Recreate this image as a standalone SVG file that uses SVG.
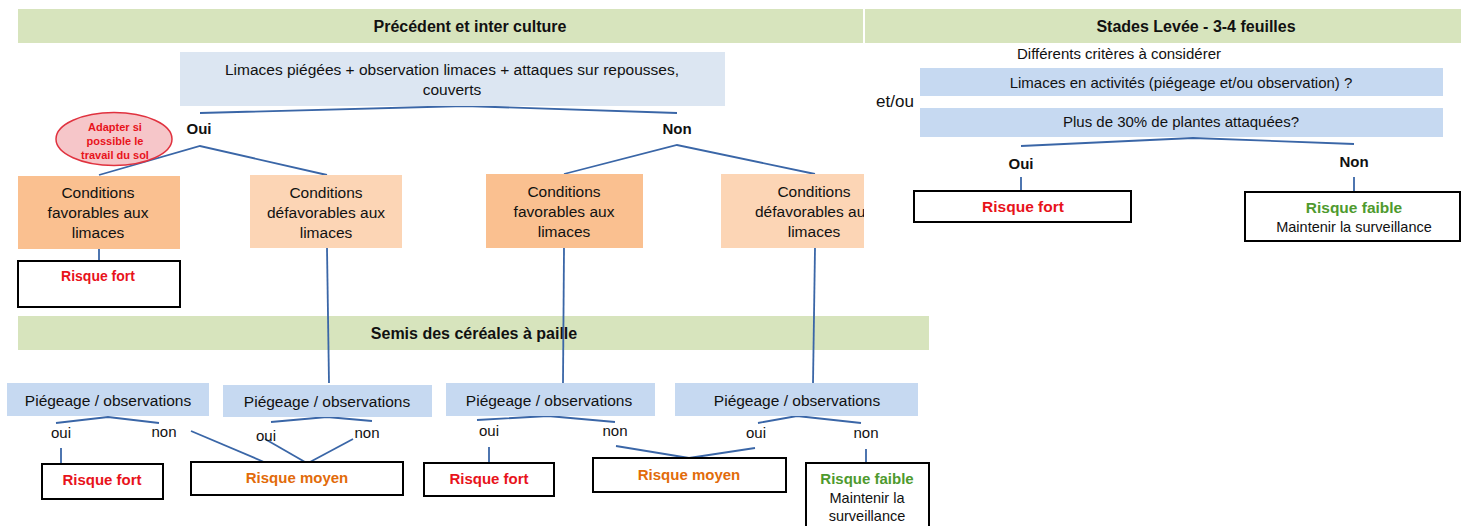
<svg xmlns="http://www.w3.org/2000/svg" width="1461" height="526" viewBox="0 0 1461 526">
<style>
text{font-family:"Liberation Sans",Arial,sans-serif;fill:#111;text-anchor:middle}
.bn{fill:#d7e4bd}
.bt{font-weight:bold;font-size:16px}
.q{fill:#dce6f2}
.pb{fill:#c6d9f1}
.of{fill:#fac090}
.ol{fill:#fcd5b5}
.r{fill:#fff;stroke:#000;stroke-width:2}
.t{font-size:15.5px}
.s{font-size:15px}
.b{font-weight:bold;font-size:15px}
.red{fill:#e8131b;font-weight:bold}
.org{fill:#e26b0a;font-weight:bold}
.grn{fill:#4e9a2e;font-weight:bold}
#connectors polyline,#connectors line{fill:none;stroke:#3a66a7;stroke-width:1.8}
</style>
<defs>
<clipPath id="c4"><rect x="721" y="174" width="143" height="75"/></clipPath>
</defs>
<rect width="1461" height="526" fill="#fff"/>

<g id="banner1"><rect class="bn" x="18" y="9" width="845" height="34"/><text class="bt" x="470" y="32">Précédent et inter culture</text></g>
<g id="banner2"><rect class="bn" x="865" y="9" width="596" height="34"/><text class="bt" x="1196" y="32">Stades Levée - 3-4 feuilles</text></g>
<g id="banner3"><rect class="bn" x="18" y="316" width="911" height="34"/><text class="bt" x="474" y="339">Semis des céréales à paille</text></g>

<g id="connectors">
<polyline points="200,113 465,106 677,113"/>
<polyline points="99,175 200,146 327,175"/>
<polyline points="564,174 677,145 815,174"/>
<line x1="99" y1="249" x2="99" y2="261"/>
<line x1="327" y1="248" x2="329" y2="383"/>
<line x1="564" y1="248" x2="563" y2="383"/>
<line x1="815" y1="248" x2="813" y2="384"/>
<polyline points="56,423 108,417 159,423"/>
<line x1="61" y1="448" x2="61" y2="464"/>
<line x1="191" y1="431" x2="264" y2="462"/>
<polyline points="271,422 327,417 372,421"/>
<line x1="265" y1="439" x2="305" y2="462"/>
<line x1="353" y1="439" x2="310" y2="462"/>
<polyline points="477,420 548,416 615,422"/>
<line x1="489" y1="447" x2="489" y2="463"/>
<polyline points="616,446 689,458 755,448"/>
<polyline points="758,423 797,416 861,423"/>
<line x1="866" y1="449" x2="866" y2="463"/>
<polyline points="1021,146 1193,138 1354,144"/>
<line x1="1021" y1="177" x2="1021" y2="190"/>
<line x1="1354" y1="177" x2="1354" y2="192"/>
</g>

<g id="q-limaces"><rect class="q" x="180" y="52" width="545" height="54"/>
<text class="t" x="452" y="75">Limaces piégées + observation limaces + attaques sur repousses,</text>
<text class="t" x="452" y="95">couverts</text></g>

<g id="lbl-oui"><text class="b" x="199" y="134">Oui</text></g>
<g id="lbl-non"><text class="b" x="677" y="134">Non</text></g>

<g id="note"><ellipse cx="114" cy="139" rx="58" ry="26.5" fill="#f6c6c9" stroke="#e0323f" stroke-width="1.5"/>
<text class="red" style="font-size:11px" x="115" y="131">Adapter si</text>
<text class="red" style="font-size:11px" x="115" y="145">possible le</text>
<text class="red" style="font-size:11px" x="115" y="159">travail du sol</text></g>

<g id="cond1"><rect class="of" x="18" y="176" width="162" height="73"/>
<text class="t" x="98" y="198">Conditions</text><text class="t" x="98" y="218">favorables aux</text><text class="t" x="98" y="238">limaces</text></g>
<g id="cond2"><rect class="ol" x="250" y="175" width="152" height="73"/>
<text class="t" x="326" y="198">Conditions</text><text class="t" x="326" y="218">défavorables aux</text><text class="t" x="326" y="238">limaces</text></g>
<g id="cond3"><rect class="of" x="486" y="174" width="157" height="74"/>
<text class="t" x="564" y="197">Conditions</text><text class="t" x="564" y="217">favorables aux</text><text class="t" x="564" y="237">limaces</text></g>
<g id="cond4" clip-path="url(#c4)"><rect class="ol" x="721" y="174" width="143" height="74"/>
<text class="t" x="814" y="197">Conditions</text><text class="t" x="814" y="217">défavorables aux</text><text class="t" x="814" y="237">limaces</text></g>

<g id="rf-top"><rect class="r" x="18" y="261" width="162" height="46"/><text class="red" style="font-size:14px" x="98" y="281">Risque fort</text></g>

<g id="p1"><rect class="pb" x="7" y="383" width="202" height="33"/><text class="t" x="108" y="406">Piégeage / observations</text></g>
<g id="p2"><rect class="pb" x="223" y="385" width="209" height="32"/><text class="t" x="327" y="407">Piégeage / observations</text></g>
<g id="p3"><rect class="pb" x="446" y="383" width="209" height="33"/><text class="t" x="549" y="406">Piégeage / observations</text></g>
<g id="p4"><rect class="pb" x="675" y="383" width="243" height="33"/><text class="t" x="797" y="406">Piégeage / observations</text></g>

<g id="yn-labels">
<text class="s" x="61" y="438">oui</text><text class="s" x="164" y="437">non</text>
<text class="s" x="266" y="441">oui</text><text class="s" x="367" y="438">non</text>
<text class="s" x="489" y="436">oui</text><text class="s" x="615" y="436">non</text>
<text class="s" x="756" y="438">oui</text><text class="s" x="866" y="438">non</text>
</g>

<g id="rf1"><rect class="r" x="42" y="464" width="121" height="35"/><text class="red" style="font-size:15px" x="102" y="485">Risque fort</text></g>
<g id="rm1"><rect class="r" x="191" y="462" width="212" height="33"/><text class="org" style="font-size:15px" x="297" y="483">Risque moyen</text></g>
<g id="rf2"><rect class="r" x="424" y="463" width="130" height="33"/><text class="red" style="font-size:15px" x="489" y="484">Risque fort</text></g>
<g id="rm2"><rect class="r" x="593" y="458" width="193" height="34"/><text class="org" style="font-size:15px" x="689" y="480">Risque moyen</text></g>
<g id="rfa1"><rect class="r" x="806" y="463" width="123" height="66"/>
<text class="grn" style="font-size:15px" x="867" y="484">Risque faible</text>
<text style="font-size:14.5px" x="867" y="503">Maintenir la</text>
<text style="font-size:14.5px" x="867" y="521">surveillance</text></g>

<g id="criteria-title"><text style="font-size:15px" x="1119" y="59">Différents critères à considérer</text></g>
<g id="etou"><text style="font-size:17px" x="895" y="107">et/ou</text></g>
<g id="c1"><rect class="pb" x="920" y="68" width="523" height="28"/><text class="s" x="1181" y="88">Limaces en activités (piégeage et/ou observation) ?</text></g>
<g id="c2"><rect class="pb" x="920" y="108" width="523" height="29"/><text class="s" x="1181" y="127">Plus de 30% de plantes attaquées?</text></g>
<g id="lbl-oui-r"><text class="b" x="1021" y="169">Oui</text></g>
<g id="lbl-non-r"><text class="b" x="1354" y="167">Non</text></g>
<g id="rf-r"><rect class="r" x="914" y="191" width="217" height="31"/><text class="red" style="font-size:15.5px" x="1023" y="212">Risque fort</text></g>
<g id="rfa-r"><rect class="r" x="1245" y="192" width="215" height="49"/>
<text class="grn" style="font-size:15.5px" x="1354" y="213">Risque faible</text>
<text style="font-size:14.5px" x="1354" y="232">Maintenir la surveillance</text></g>
</svg>
